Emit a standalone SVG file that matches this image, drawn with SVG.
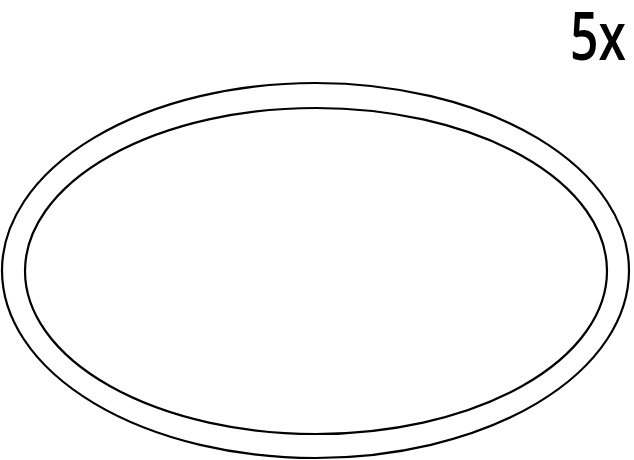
<svg xmlns="http://www.w3.org/2000/svg" width="634" height="460" viewBox="0 0 634 460">
<style>
.ring{fill:none;stroke:#000;stroke-width:2.2}
.lbl{font-family:"Open Sans","DejaVu Sans",sans-serif;font-size:67px;font-weight:600;fill:#000}
</style>
<rect width="634" height="460" fill="#fff"/>
<g id="outer-ring"><ellipse class="ring" cx="315.5" cy="270.5" rx="313.5" ry="187.5"/></g>
<g id="inner-ring"><ellipse class="ring" cx="316" cy="271" rx="291" ry="163"/></g>
<g id="label"><text class="lbl" x="570" y="60" textLength="56" lengthAdjust="spacingAndGlyphs">5x</text></g>
</svg>
